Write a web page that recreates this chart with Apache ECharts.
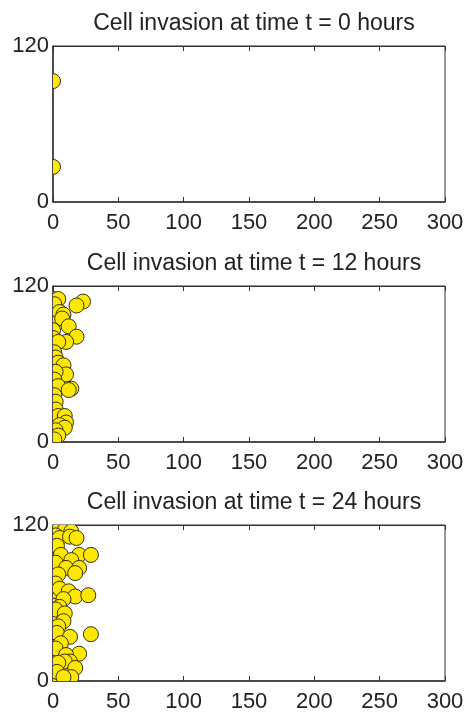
<!DOCTYPE html>
<html>
<head>
<meta charset="utf-8">
<script src="https://cdn.jsdelivr.net/npm/echarts@6/dist/echarts.min.js"></script>
<style>
  html, body { margin: 0; padding: 0; background: #fff; }
  #main { width: 468px; height: 713px; }
</style>
</head>
<body>
<div id="main"></div>
<script>
// panel titles
var titles = [
  'Cell invasion at time t = 0 hours',
  'Cell invasion at time t = 12 hours',
  'Cell invasion at time t = 24 hours'
];
var xTicks = [0, 50, 100, 150, 200, 250, 300];
var yTicks = [0, 120];

// cell positions [x, y]
var cells0h = [[0, 93], [0, 27]];

var cells12h = [
  [0, 110], [0, 104], [0, 98], [0, 92], [0, 86], [0, 80], [0, 74], [0, 68],
  [0, 62], [0, 56], [0, 50], [0, 44], [0, 38], [0, 32], [0, 26], [0, 20],
  [0, 14], [0, 8], [0, 2],
  [23, 108], [18, 105], [4, 110], [1, 106], [5, 100], [8, 98], [7, 95],
  [12, 89], [18, 81], [10, 77], [4, 77], [1, 69], [2, 65], [4, 61], [8, 59],
  [10, 52], [2, 54], [1, 48], [4, 43], [14, 41], [12, 40], [1, 36], [2, 31],
  [2, 25], [4, 20], [9, 20], [10, 15], [5, 13], [9, 11], [2, 9], [4, 5], [1, 2]
];

var cells24h = [
  [0, 118], [0, 112], [0, 106], [0, 100], [0, 94], [0, 88], [0, 82], [0, 76],
  [0, 70], [0, 64], [0, 58], [0, 52], [0, 46], [0, 40], [0, 34], [0, 28],
  [0, 22], [0, 16], [0, 10], [0, 4],
  [4, 117], [9, 116], [14, 115], [2, 112], [5, 110], [13, 111], [18, 110],
  [3, 104], [6, 97], [20, 97], [29, 97], [14, 93], [2, 91], [10, 87],
  [20, 87], [17, 83], [4, 82], [2, 75], [5, 71], [12, 69], [17, 65],
  [27, 66], [8, 63], [5, 57], [2, 55], [9, 52], [8, 46], [4, 42], [3, 37],
  [29, 36], [13, 34], [6, 29], [2, 25], [20, 21], [10, 20], [13, 15],
  [9, 15], [4, 14], [17, 10], [3, 7], [14, 3], [8, 3]
];

var panels = [cells0h, cells12h, cells24h];

var gridTops = [46, 286, 525];
var gridH = 156;
var gridLeft = 53;
var gridW = 392;
var txtColor = '#222';
var lineColor = '#333';
var fontFam = '"Liberation Sans", Arial, sans-serif';

var chart = echarts.init(document.getElementById('main'));

var option = {
  backgroundColor: '#fff',
  animation: false,
  title: [],
  grid: [],
  xAxis: [],
  yAxis: [],
  series: []
};

panels.forEach(function (data, i) {
  option.title.push({
    text: titles[i],
    left: gridLeft + gridW / 2,
    textAlign: 'center',
    top: gridTops[i] - 39,
    textStyle: { fontSize: 23, fontWeight: 'normal', color: txtColor, fontFamily: fontFam }
  });
  option.grid.push({
    left: gridLeft, top: gridTops[i], width: gridW, height: gridH,
    show: true, borderColor: lineColor, borderWidth: 1, backgroundColor: '#fff'
  });
  // bottom axis with labels
  option.xAxis.push({
    gridIndex: i, type: 'value', min: xTicks[0], max: xTicks[xTicks.length - 1], interval: 50,
    position: 'bottom',
    axisLine: { lineStyle: { color: lineColor, width: 1.5 } },
    axisTick: { inside: true, length: 5, lineStyle: { color: lineColor } },
    axisLabel: { color: txtColor, fontSize: 22, fontFamily: fontFam, margin: 10 },
    splitLine: { show: false }
  });
  // top axis, ticks only
  option.xAxis.push({
    gridIndex: i, type: 'value', min: xTicks[0], max: xTicks[xTicks.length - 1], interval: 50,
    position: 'top',
    axisLine: { lineStyle: { color: lineColor } },
    axisTick: { inside: true, length: 5, lineStyle: { color: lineColor } },
    axisLabel: { show: false },
    splitLine: { show: false }
  });
  option.yAxis.push({
    gridIndex: i, type: 'value', min: yTicks[0], max: yTicks[1], interval: 120,
    axisLine: { show: true, lineStyle: { color: lineColor, width: 1.5 } },
    axisTick: { show: false },
    axisLabel: { color: txtColor, fontSize: 22, fontFamily: fontFam, margin: 4 },
    splitLine: { show: false }
  });
  option.series.push({
    type: 'custom',
    xAxisIndex: i * 2,
    yAxisIndex: i,
    clip: true,
    data: data,
    renderItem: function (params, api) {
      var p = api.coord([api.value(0), api.value(1)]);
      return {
        type: 'circle',
        shape: { cx: p[0], cy: p[1], r: 7.5 },
        style: { fill: '#ffe800', stroke: '#33301a', lineWidth: 1 }
      };
    }
  });
});

chart.setOption(option);
</script>
</body>
</html>
